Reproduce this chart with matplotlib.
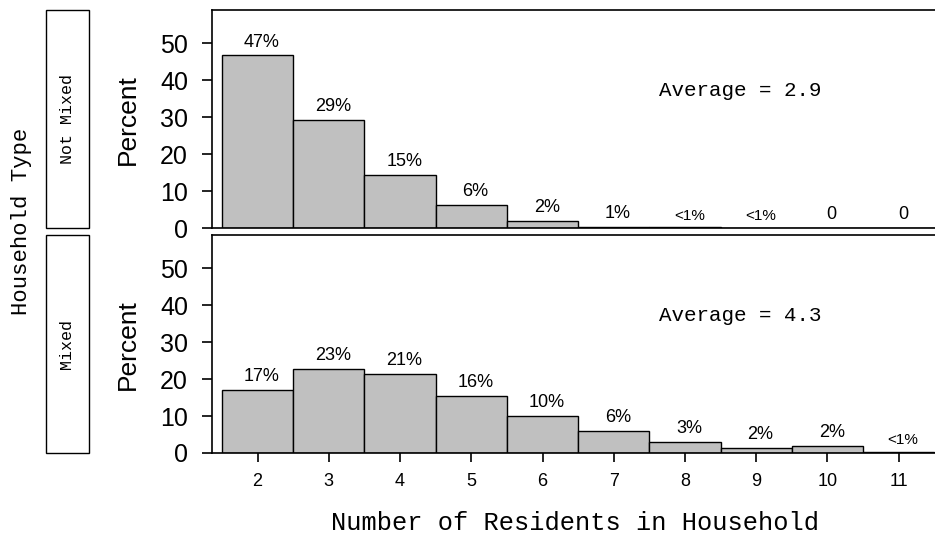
import matplotlib
matplotlib.use("Agg")
import matplotlib.pyplot as plt
from matplotlib.patches import Rectangle

# data
residents = [2, 3, 4, 5, 6, 7, 8, 9, 10, 11]
not_mixed = [46.7, 29.2, 14.3, 6.2, 1.9, 0.3, 0.15, 0.1, 0, 0]
not_mixed_labels = ["47%", "29%", "15%", "6%", "2%", "1%", "<1%", "<1%", "0", "0"]
mixed = [17.0, 22.7, 21.3, 15.4, 10.0, 5.9, 2.9, 1.35, 2.0, 0.4]
mixed_labels = ["17%", "23%", "21%", "16%", "10%", "6%", "3%", "2%", "2%", "<1%"]
panel_names = ["Not Mixed", "Mixed"]
averages = ["2.9", "4.3"]
yticks = [0, 10, 20, 30, 40, 50]

W, H = 935, 537
fig = plt.figure(figsize=(W / 100, H / 100), dpi=100)

sans = ["Liberation Sans", "DejaVu Sans"]
narrow = ["Liberation Sans Narrow", "Liberation Sans", "DejaVu Sans"]
mono = ["Liberation Mono", "DejaVu Sans Mono"]


def fx(px):
    return px / W


def fy(py):
    return 1 - py / H


panels = [(228, not_mixed, not_mixed_labels), (453, mixed, mixed_labels)]
axes = []
for i, (base, vals, labs) in enumerate(panels):
    ax = fig.add_axes([fx(212), fy(base), fx(935) - fx(212), 218 / H])
    ax.bar(residents, vals, width=1, color="#c0c0c0", edgecolor="black", linewidth=1)
    for x, v, s in zip(residents, vals, labs):
        size = 11 if s.startswith("<") else 13
        ax.text(x + 0.06, v + 1.3, s, ha="center", va="bottom",
                fontsize=size, family=sans)
    ax.text(8.78, 37.2, "Average = " + averages[i], ha="center", va="center",
            fontsize=15, family=mono)
    ax.set_xlim(1.36, 11.51)
    ax.set_ylim(0, 59)
    ax.spines["right"].set_visible(False)
    for sp in ["left", "top", "bottom"]:
        ax.spines[sp].set_linewidth(1.2)
    ax.set_yticks(yticks)
    ax.set_yticklabels([str(t) for t in yticks], family=sans, fontsize=18)
    ax.tick_params(axis="y", direction="out", length=7.2, width=1.2, pad=10)
    if i == 0:
        ax.set_xticks([])
    else:
        ax.set_xticks(residents)
        ax.set_xticklabels([str(r) for r in residents], family=sans, fontsize=13)
        ax.tick_params(axis="x", direction="out", length=6.5, width=1.2, pad=8)
    axes.append(ax)

    # strip box with panel name
    top = base - 218
    fig.add_artist(Rectangle((fx(45.7), fy(base)), (89.3 - 45.7) / W, 218 / H,
                             transform=fig.transFigure, fill=False,
                             edgecolor="black", linewidth=1))
    fig.text(fx(67), fy((top + base) / 2), panel_names[i], rotation=90,
             ha="center", va="center", fontsize=12, family=mono)
    fig.text(fx(128), fy((top + base) / 2 + 1), "Percent", rotation=90,
             ha="center", va="center", fontsize=19, family=narrow)

fig.text(fx(22), fy(221), "Household Type", rotation=90, ha="center",
         va="center", fontsize=16, family=mono)
fig.text(fx(575), fy(523), "Number of Residents in Household", ha="center",
         va="center", fontsize=18.3, family=mono)

fig.savefig("out.png", dpi=100)
